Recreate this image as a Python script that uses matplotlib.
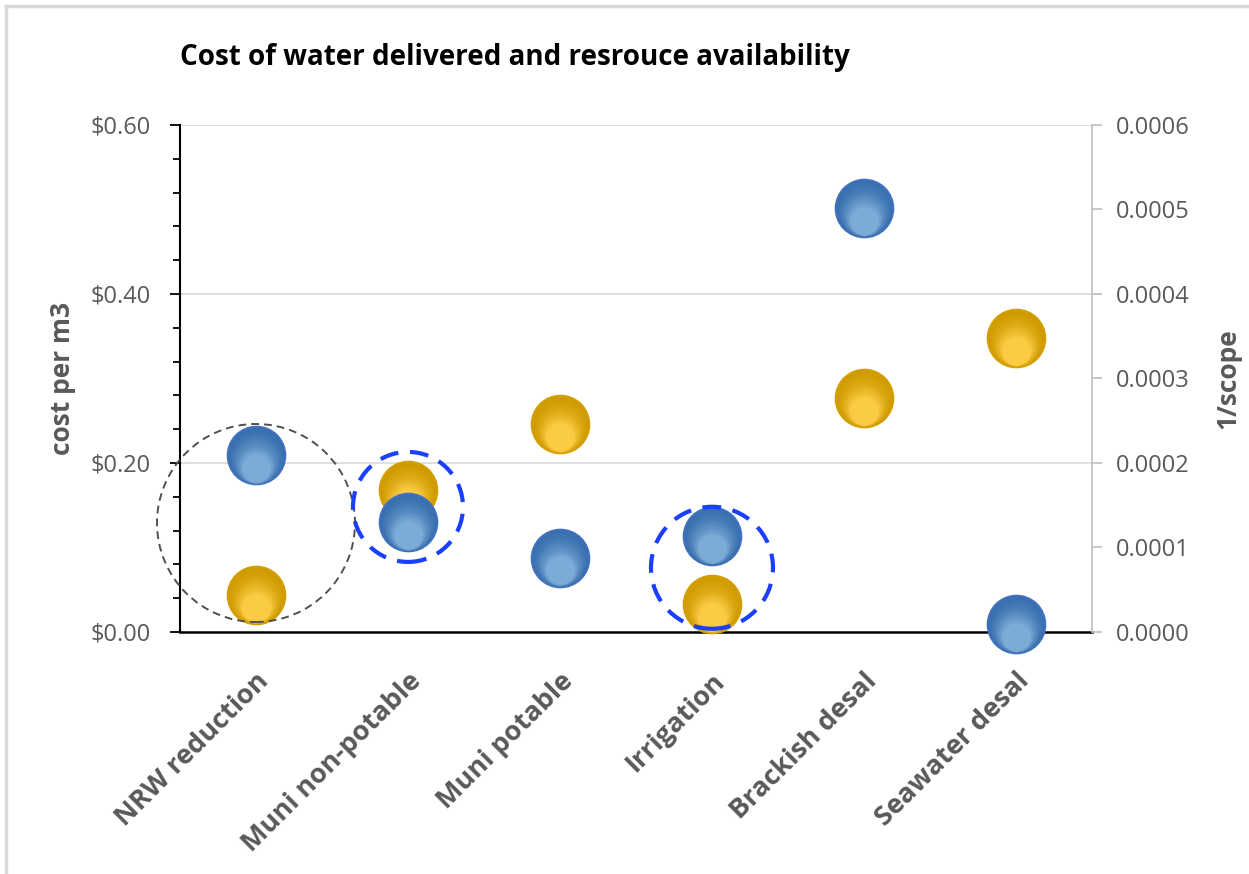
import numpy as np
import matplotlib.pyplot as plt
from matplotlib import transforms
from matplotlib.colors import to_rgb
from matplotlib.ticker import MultipleLocator, FuncFormatter
from matplotlib.lines import Line2D

categories = ["NRW reduction", "Muni non-potable", "Muni potable",
              "Irrigation", "Brackish desal", "Seawater desal"]
cost_per_m3 = [0.044, 0.168, 0.246, 0.033, 0.277, 0.348]
inv_scope = [0.000209, 0.000130, 0.000088, 0.000114, 0.000502, 0.0000095]

# dashed rings drawn around groups of bubbles (category index, cost level, diameter px)
ring_x = [0, 1, 3]
ring_y = [0.129, 0.148, 0.076]
ring_px = [198, 110, 122]

plt.rcParams['font.family'] = ['Open Sans', 'DejaVu Sans']

fig = plt.figure(figsize=(12.49, 8.74), dpi=100)
ax = fig.add_axes([0.1441, 0.2769, 0.7302, 0.5801])
ax2 = ax.twinx()

x = np.arange(len(categories))
ax.set_xlim(-0.5, len(categories) - 0.5)
ax.set_ylim(0, 0.6)
ax2.set_ylim(0, 0.0006)

size_pt = 58 * 72 / fig.dpi


def bubbles(axis, xs, ys, top, bottom, edge, z):
    # shaded sphere look: stack shrinking discs shifted downward, lighter towards the bottom
    axis.scatter(xs, ys, s=size_pt ** 2, color=top, edgecolors=edge,
                 linewidths=1.2, zorder=z, clip_on=False)
    top, bottom = np.array(to_rgb(top)), np.array(to_rgb(bottom))
    n = 16
    for i in range(1, n):
        f = i / n
        d = size_pt * (1 - 0.55 * f)
        shift = (size_pt - d) / 2 * 0.85
        tr = transforms.offset_copy(axis.transData, fig=fig, x=0, y=-shift, units='points')
        col = top + (bottom - top) * f ** 1.6
        axis.scatter(xs, ys, s=d ** 2, color=col, linewidths=0,
                     transform=tr, zorder=z, clip_on=False)


bubbles(ax, x, cost_per_m3, '#CF9B00', '#FFD04A', '#D4A000', 3)
bubbles(ax2, x, inv_scope, '#386FAE', '#84B1DC', '#4472C4', 4)
ax2.set_zorder(ax.get_zorder() + 1)
ax2.patch.set_visible(False)

ring_style = [('#505050', 1.4, (0, (4, 2.6))), ('#1a3fff', 3.0, (0, (4.5, 2.8))),
              ('#1a3fff', 3.0, (0, (4.5, 2.8)))]
for rx, ry, rp, (c, lw, ls) in zip(ring_x, ring_y, ring_px, ring_style):
    ax2.scatter([rx], [ry / 1000], s=(rp * 72 / fig.dpi) ** 2, facecolors='none',
                edgecolors=c, linewidths=lw, linestyles=[ls], zorder=6, clip_on=False)

# grid and spines
for v in [0.2, 0.4, 0.6]:
    ax.axhline(v, color='#D9D9D9', lw=1.2, zorder=0)
ax.spines['top'].set_visible(False)
ax2.spines['top'].set_visible(False)
ax2.spines['left'].set_visible(False)
ax2.spines['bottom'].set_visible(False)
ax.spines['right'].set_visible(False)
ax.spines['left'].set_color('black')
ax.spines['left'].set_linewidth(1.5)
ax.spines['bottom'].set_color('black')
ax.spines['bottom'].set_linewidth(1.8)
ax2.spines['right'].set_color('#BFBFBF')
ax2.spines['right'].set_linewidth(1.2)

ax.yaxis.set_major_locator(MultipleLocator(0.2))
ax.yaxis.set_minor_locator(MultipleLocator(0.04))
ax.yaxis.set_major_formatter(FuncFormatter(lambda v, p: f"${v:.2f}"))
ax.tick_params(axis='y', which='major', length=7, width=1.3, color='black',
               labelsize=17, labelcolor='#595959', pad=14)
ax.tick_params(axis='y', which='minor', length=5, width=1.3, color='black')

ax2.yaxis.set_major_locator(MultipleLocator(0.0001))
ax2.yaxis.set_major_formatter(FuncFormatter(lambda v, p: f"{v:.4f}"))
ax2.tick_params(axis='y', length=7, width=1.2, color='#BFBFBF',
                labelsize=17, labelcolor='#595959', pad=10)

ax.set_xticks(x)
ax.set_xticklabels(categories, rotation=45, ha='right', va='top',
                   rotation_mode='anchor', fontsize=19.5, fontweight='bold',
                   color='#595959')
ax.tick_params(axis='x', length=0, pad=26)

# axis titles: x fixed in the figure, y centred on the plot area
lab_tr = transforms.blended_transform_factory(fig.transFigure, ax.transAxes)
ax.set_ylabel("cost per m3", fontsize=19, fontweight='bold', color='#595959')
ax.yaxis.set_label_coords(63 / 1249, 0.5, transform=lab_tr)
ax2.set_ylabel("1/scope", fontsize=19, fontweight='bold', color='#595959')
ax2.yaxis.set_label_coords(1228 / 1249, 0.5, transform=lab_tr)
ax.yaxis.label.set_va('center')
ax2.yaxis.label.set_va('center')

fig.text(180 / 1249, 1 - 57 / 874, "Cost of water delivered and resrouce availability",
         fontsize=20, fontweight='bold', color='black', va='center', ha='left')

# chart frame edges
fig.add_artist(Line2D([6 / 1249, 1], [1 - 6 / 874] * 2, color='#D9D9D9', lw=2.5,
                      transform=fig.transFigure))
fig.add_artist(Line2D([6 / 1249] * 2, [0, 1 - 6 / 874], color='#D9D9D9', lw=2.5,
                      transform=fig.transFigure))

fig.savefig("out.png", dpi=100)
